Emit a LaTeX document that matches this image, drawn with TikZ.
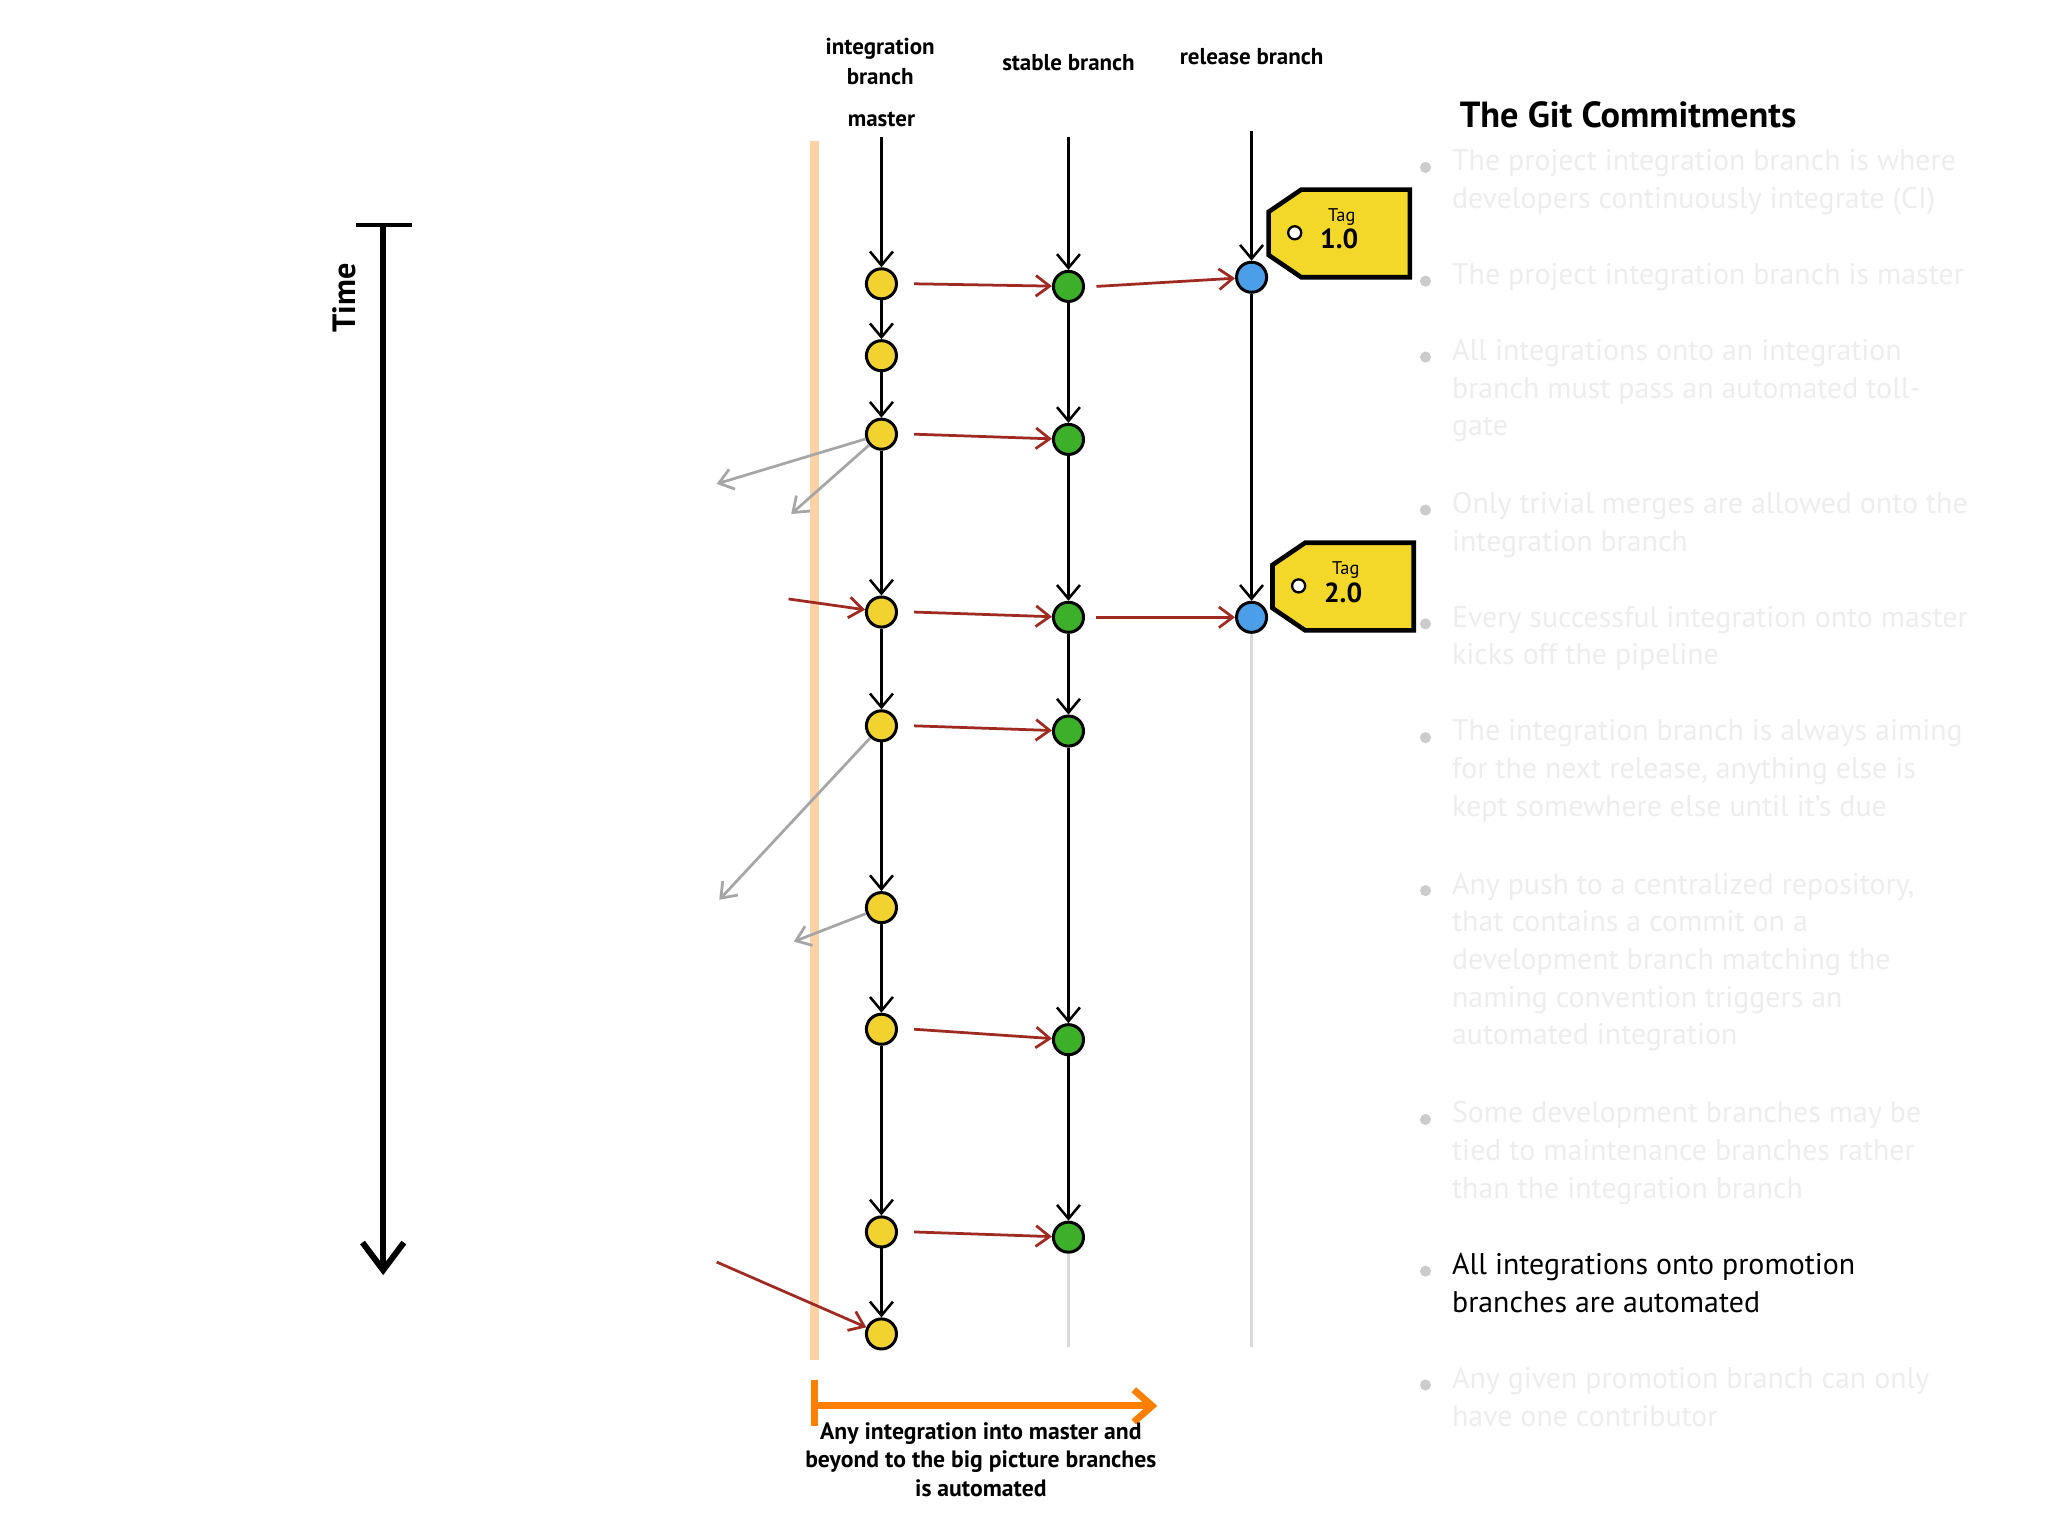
\documentclass[tikz,border=0pt]{standalone}
\usepackage{fontspec}
\setmainfont{PT Sans}
\usetikzlibrary{arrows.meta}
\definecolor{cy}{HTML}{F2D22E}
\definecolor{cg}{HTML}{3DB02A}
\definecolor{cb}{HTML}{4A9FE8}
\definecolor{cr}{HTML}{9E2A22}
\definecolor{faint}{HTML}{EDEDED}
\begin{document}
\begin{tikzpicture}[x=0.02cm,y=-0.02cm,
  commit/.style={circle,draw=black,line width=1.3pt,minimum size=0.46cm,inner sep=0pt},
  ym/.style={commit,fill=cy},gm/.style={commit,fill=cg},bm/.style={commit,fill=cb},
  blk/.style={line width=1.1pt,-{Straight Barb[length=6pt,width=10pt]}},
  red/.style={cr,line width=1.2pt,-{Straight Barb[length=6pt,width=9pt]}},
  gry/.style={gray!70,line width=1.2pt,-{Straight Barb[length=6pt,width=9pt]}},
  lab/.style={font=\fontsize{10}{13}\selectfont\bfseries,align=center},
  bul/.style={font=\fontsize{13}{16.4}\selectfont,align=left,anchor=north west,inner sep=0pt,text=faint},
  dot/.style={circle,fill=gray!40,minimum size=0.17cm,inner sep=0pt}]
\useasboundingbox (0,0) rectangle (1566,1174.5);
% time arrow
\coordinate (t0) at (293,172); \coordinate (t1) at (293,975);
\draw[line width=2pt] (272,172) -- (315,172);
\draw[line width=2.6pt,-{Straight Barb[length=12pt,width=18pt]}] (t0) -- (t1);
\node[rotate=90,font=\fontsize{14}{16}\selectfont\bfseries] (time) at (263,228) {Time};
% orange line
\draw[orange!35,line width=4pt] (623,108) -- (623,1040);
% labels
\node[lab] (li) at (673,47) {integration\\branch};
\node[lab] (lm) at (674,91) {master};
\node[lab] (ls) at (817,48) {stable branch};
\node[lab] (lr) at (957,43) {release branch};
% commits
\foreach \i/\y in {1/217,2/272,3/332,4/468,5/555,6/694,7/787,8/942,9/1020} \node[ym] (m\i) at (674,\y) {};
\foreach \i/\y in {1/219,2/336,3/472,4/559,5/795,6/946} \node[gm] (s\i) at (817,\y) {};
\node[bm] (r1) at (957,212) {};
\node[bm] (r2) at (957,472) {};
\coordinate (m0) at (674,105); \coordinate (s0) at (817,105); \coordinate (r0) at (957,100);
\coordinate (se) at (817,1030); \coordinate (re) at (957,1030);
% vertical lines
\foreach \a/\b in {0/1,1/2,2/3,3/4,4/5,5/6,6/7,7/8,8/9} \draw[blk] (m\a) -- (m\b);
\foreach \a/\b in {0/1,1/2,2/3,3/4,4/5,5/6} \draw[blk] (s\a) -- (s\b);
\draw[blk] (r0) -- (r1); \draw[blk] (r1) -- (r2);
\draw[gray!30,line width=1.2pt] (s6) -- (se);
\draw[gray!30,line width=1.2pt] (r2) -- (re);
% red arrows
\foreach \a/\b in {1/1,3/2,4/3,5/4,7/5,8/6} \draw[red] ([xshift=7pt]m\a.east) -- (s\b);
\draw[red] ([xshift=5pt]s1.east) -- (r1);
\draw[red] ([xshift=5pt]s3.east) -- (r2);
\coordinate (ri1) at (603,458); \coordinate (ri2) at (548,965);
\draw[red] (ri1) -- (m4);
\draw[red] (ri2) -- (m9);
% gray arrows
\coordinate (g1) at (548,370); \coordinate (g2) at (605,393);
\coordinate (g3) at (550,688); \coordinate (g4) at (607,720);
\draw[gry] (m3) -- (g1); \draw[gry] (m3) -- (g2);
\draw[gry] (m5) -- (g3); \draw[gry] (m6) -- (g4);
% tags
\foreach \n/\x/\y/\v in {1/970/145/1.0,2/973/415/2.0}{
  \draw[line width=2pt,fill=cy!90!yellow] (\x+25,\y) -- (\x+108,\y) -- (\x+108,\y+67) -- (\x+25,\y+67) -- (\x,\y+50) -- (\x,\y+17) -- cycle;
  \node[circle,draw=black,fill=white,line width=1pt,minimum size=0.2cm,inner sep=0pt] (h\n) at (\x+20,\y+33) {};
  \node[font=\fontsize{8}{9}\selectfont] (tt\n) at (\x+56,\y+21) {Tag};
  \node[font=\fontsize{12}{13}\selectfont\bfseries] (tv\n) at (\x+54,\y+38) {\v};
}
% bottom orange arrow
\coordinate (o0) at (623,1075); \coordinate (o1) at (885,1075);
\draw[orange,line width=3pt] (623,1055) -- (623,1090);
\draw[orange,line width=3pt,-{Straight Barb[length=8pt,width=14pt]}] (o0) -- (o1);
\node[lab,font=\fontsize{10.3}{12.5}\selectfont\bfseries] (bt) at (750,1116) {Any integration into master and\\beyond to the big picture branches\\is automated};
% heading
\node[anchor=west,font=\fontsize{15.8}{20}\selectfont\bfseries] (hd) at (1110,88) {The Git Commitments};
% bullets
\foreach \y/\t in {
 114/{The project integration branch is where\\developers continuously integrate (CI)},
 201/{The project integration branch is master},
 259/{All integrations onto an integration\\branch must pass an automated toll-\\gate},
 376/{Only trivial merges are allowed onto the\\integration branch},
 463/{Every successful integration onto master\\kicks off the pipeline},
 550/{The integration branch is always aiming\\for the next release, anything else is\\kept somewhere else until it's due},
 667/{Any push to a centralized repository,\\that contains a commit on a\\development branch matching the\\naming convention triggers an\\automated integration},
 842/{Some development branches may be\\tied to maintenance branches rather\\than the integration branch},
 1045/{Any given promotion branch can only\\have one contributor}}{
  \node[dot] at (1090,\y+14) {};
  \node[bul] at (1110,\y) {\t};
}
\node[dot] (d9) at (1090,972) {};
\node[bul,text=black] (b9) at (1110,958) {All integrations onto promotion\\branches are automated};
\end{tikzpicture}
\end{document}
